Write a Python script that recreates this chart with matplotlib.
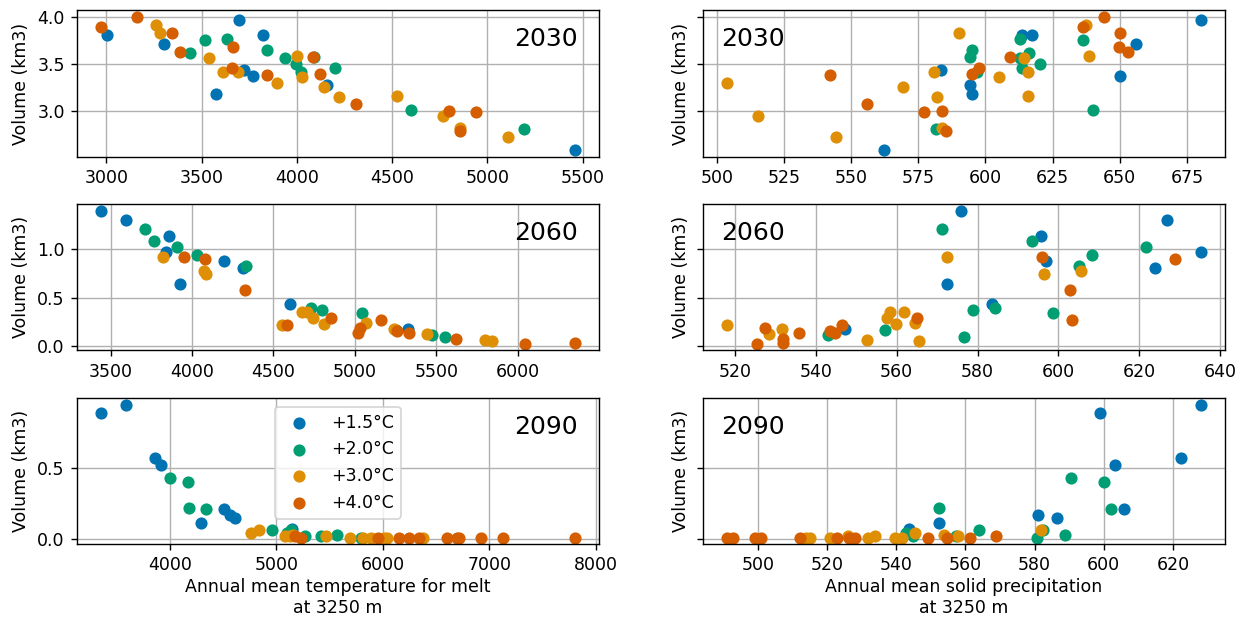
import matplotlib.pyplot as plt

scen = ["+1.5°C", "+2.0°C", "+3.0°C", "+4.0°C"]
colors = ["#0173B2", "#029E73", "#DE8F05", "#D55E00"]
years = ["2030", "2060", "2090"]

# one list per scenario: +1.5, +2.0, +3.0, +4.0
temp_2030 = [
    [3698, 3005, 3821, 3303, 3723, 3768, 4158, 3575, 5459],
    [3632, 3516, 3842, 3439, 4088, 3939, 3995, 4202, 4021, 4596, 5190],
    [3258, 3281, 4002, 3539, 3614, 3693, 4028, 3895, 4140, 4219, 4526, 4764, 4857, 5109],
    [3158, 2970, 3346, 3663, 3386, 4083, 3661, 3842, 4123, 4309, 4796, 4940, 4857],
]
prcp_2030 = [
    [680.2, 613.5, 617.5, 656.0, 583.5, 650.2, 594.1, 595.0, 562.2],
    [612.7, 636.3, 595.0, 616.4, 594.4, 612.9, 620.5, 613.5, 597.0, 640.0, 581.7],
    [637.5, 590.0, 638.7, 614.5, 581.0, 615.7, 604.9, 503.7, 569.5, 581.9, 615.7, 515.5, 583.8, 544.5],
    [644.3, 636.3, 650.2, 649.8, 653.1, 609.2, 597.5, 542.0, 595.0, 556.0, 583.8, 577.0, 585.4],
]
vol_2030 = [
    [3.97, 3.81, 3.81, 3.72, 3.44, 3.38, 3.28, 3.18, 2.59],
    [3.77, 3.76, 3.65, 3.62, 3.58, 3.57, 3.50, 3.46, 3.42, 3.01, 2.81],
    [3.92, 3.83, 3.59, 3.57, 3.42, 3.42, 3.36, 3.30, 3.26, 3.15, 3.16, 2.95, 2.82, 2.73],
    [4.00, 3.89, 3.83, 3.68, 3.63, 3.58, 3.46, 3.39, 3.40, 3.08, 3.00, 2.99, 2.79],
]

temp_2060 = [
    [3439, 3592, 3861, 3843, 3924, 4196, 4310, 4604, 5328],
    [3714, 3769, 3908, 4031, 4333, 4731, 4796, 5047, 5250, 5471, 5553],
    [3822, 4073, 4086, 4678, 4705, 4741, 5068, 4812, 4551, 5238, 5443, 5801, 5842],
    [3953, 4078, 4327, 4851, 5160, 4584, 5031, 5262, 5020, 5334, 5621, 6352, 6045],
]
prcp_2060 = [
    [575.9, 627.0, 595.7, 635.3, 572.4, 596.9, 624.0, 583.6, 547.3],
    [571.3, 593.6, 621.7, 608.3, 605.0, 584.3, 578.9, 598.6, 557.1, 543.0, 576.6],
    [572.4, 605.5, 596.4, 558.3, 561.7, 557.5, 564.4, 559.8, 517.9, 531.6, 528.3, 552.7, 565.6],
    [595.9, 628.9, 603.0, 565.0, 603.3, 546.5, 527.4, 543.4, 535.9, 544.6, 531.8, 531.8, 525.4],
]
vol_2060 = [
    [1.40, 1.31, 1.14, 0.97, 0.64, 0.88, 0.81, 0.43, 0.17],
    [1.21, 1.09, 1.02, 0.94, 0.83, 0.39, 0.37, 0.34, 0.16, 0.11, 0.09],
    [0.92, 0.78, 0.74, 0.35, 0.35, 0.29, 0.24, 0.23, 0.22, 0.17, 0.12, 0.06, 0.05],
    [0.92, 0.90, 0.58, 0.29, 0.27, 0.22, 0.18, 0.15, 0.13, 0.13, 0.07, 0.03, 0.02],
]

temp_2090 = [
    [3353, 3594, 3866, 3916, 4291, 4509, 4563, 4616, 5150],
    [4006, 4172, 4181, 4344, 4963, 5140, 5100, 5570, 5266, 5422, 5797],
    [4838, 4766, 5160, 5078, 5125, 5463, 5694, 5813, 5891, 6016, 6040, 6375],
    [5172, 5234, 5953, 6150, 6244, 6338, 6600, 6697, 6719, 6922, 7125, 7803],
]
prcp_2090 = [
    [598.8, 628.1, 622.3, 603.4, 552.5, 606.0, 581.0, 586.5, 543.6],
    [590.6, 600.0, 552.5, 602.2, 563.9, 582.5, 542.8, 588.8, 545.0, 557.2, 580.6],
    [581.9, 545.5, 553.7, 558.0, 533.9, 526.1, 514.0, 541.8, 539.7, 515.2, 521.0, 531.8],
    [569.0, 561.3, 554.8, 549.3, 528.2, 526.4, 522.9, 512.3, 500.8, 499.3, 492.9, 491.0],
]
vol_2090 = [
    [0.88, 0.94, 0.57, 0.52, 0.11, 0.21, 0.17, 0.15, 0.07],
    [0.43, 0.40, 0.22, 0.21, 0.06, 0.06, 0.04, 0.03, 0.02, 0.02, 0.01],
    [0.06, 0.04, 0.03, 0.02, 0.02, 0.02, 0.01, 0.01, 0.01, 0.01, 0.01, 0.01],
    [0.02, 0.01, 0.01, 0.01, 0.01, 0.01, 0.01, 0.01, 0.01, 0.01, 0.01, 0.01],
]

temps = [temp_2030, temp_2060, temp_2090]
prcps = [prcp_2030, prcp_2060, prcp_2090]
vols = [vol_2030, vol_2060, vol_2090]

fig, axes = plt.subplots(3, 2, figsize=(9.936, 4.936), dpi=125, sharey='row')
fig.subplots_adjust(left=0.062, right=0.986, top=0.983, bottom=0.118,
                    wspace=0.2, hspace=0.326)

for row in range(3):
    ax1, ax2 = axes[row]
    for i in range(4):
        ax1.scatter(temps[row][i], vols[row][i], color=colors[i], label=scen[i])
        ax2.scatter(prcps[row][i], vols[row][i], color=colors[i])
    ax1.text(0.96, 0.755, years[row], transform=ax1.transAxes, ha='right',
             va='baseline', fontsize=14.4)
    ax2.text(0.035, 0.755, years[row], transform=ax2.transAxes, ha='left',
             va='baseline', fontsize=14.4)
    for ax in (ax1, ax2):
        ax.set_ylabel("Volume (km3)")
        ax.grid(True)
        ax.set_axisbelow(True)

axes[0, 0].set_yticks([3.0, 3.5, 4.0])
axes[1, 0].set_yticks([0.0, 0.5, 1.0])
axes[2, 0].set_yticks([0.0, 0.5])

axes[2, 0].legend(loc='upper center')
axes[2, 0].set_xlabel("Annual mean temperature for melt\nat 3250 m", labelpad=2)
axes[2, 1].set_xlabel("Annual mean solid precipitation\nat 3250 m", labelpad=2)

fig.savefig("out.png", dpi=125)
